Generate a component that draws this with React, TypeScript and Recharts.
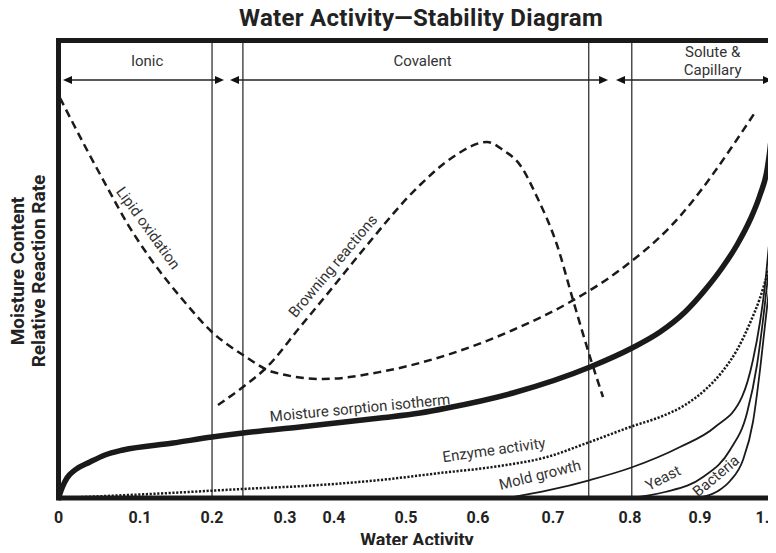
import React from 'react';
import { LineChart, Line, XAxis, YAxis, ReferenceLine, ReferenceDot } from 'recharts';

// x runs 0..100 across the plot (tick labels are placed where the diagram puts them),
// y is a relative 0..100 scale
const tickLabels = ['0', '0.1', '0.2', '0.3', '0.4', '0.5', '0.6', '0.7', '0.8', '0.9', '1.1'];
const tickPositions = [0, 11.36, 21.39, 31.57, 38.4, 48.43, 58.47, 68.92, 79.65, 89.41, 98.75];

const zoneBoundaries = [21.4, 25.7, 73.9, 79.9];

const zones = [
  { name: ['Ionic'], from: 0.63, to: 23.07 },
  { name: ['Covalent'], from: 23.9, to: 76.59 },
  { name: ['Solute &', 'Capillary'], from: 77.7, to: 99.44 },
];

const sorptionIsotherm: [number, number][] = [
  [0, 0], [0.49, 2.19], [1.18, 4.37], [2.3, 6.12], [4.39, 7.87], [6.48, 9.4], [8.99, 10.49],
  [15.96, 12.02], [21.39, 13.33], [25.71, 14.21], [33.66, 15.52], [44.81, 17.49], [50.38, 18.58],
  [54.15, 19.67], [63.34, 22.95], [74.08, 28.63], [79.93, 32.79], [83.83, 36.28], [87.32, 40.66],
  [90.1, 45.46], [92.47, 50.27], [94.56, 55.3], [96.38, 60.77], [97.77, 66.23], [98.75, 71.69],
  [99.3, 78.25], [99.72, 87.43],
];

const lipidOxidation: [number, number][] = [
  [0.21, 87.43], [3.97, 76.07], [6.76, 67.98], [9.55, 60.11], [12.75, 52.46], [17.35, 43.28],
  [21.39, 36.28], [25.71, 31.26], [29.9, 27.54], [36.86, 26.01], [44.81, 27.54], [54.15, 31.26],
  [63.34, 36.72], [71.29, 42.84], [78.26, 49.84], [85.23, 59.23], [97.21, 84.59],
];

const browning: [number, number][] = [
  [22.23, 20.33], [25.71, 24.26], [29.06, 28.63], [33.66, 37.38], [38.26, 46.12], [42.44, 54.21],
  [50.38, 68.42], [54.98, 74.54], [59.72, 77.81], [61.95, 76.07], [64.32, 72.79], [66.69, 65.79],
  [69.48, 55.3], [71.71, 43.28], [74.08, 30.82], [75.89, 22.08],
];

const enzyme: [number, number][] = [
  [0, 0], [12.75, 0.87], [25.71, 1.97], [36.45, 2.84], [44.81, 3.93], [53.17, 5.46], [61.53, 7.0],
  [68.08, 8.96], [73.66, 12.02], [80.07, 15.74], [83.83, 17.7], [87.32, 20.33], [90.1, 23.61],
  [92.47, 27.54], [94.56, 32.35], [96.38, 38.25], [97.77, 43.72], [98.89, 49.4], [100, 55.3],
];

const mold: [number, number][] = [
  [62.65, 0], [68.5, 1.75], [74.08, 3.93], [79.65, 6.56], [86.62, 11.15], [91.5, 15.52],
  [95.26, 22.08], [96.79, 30.16], [97.77, 38.47], [98.47, 46.56], [99.02, 55.3], [99.58, 64.04], [100, 70.6],
];

const yeast: [number, number][] = [
  [79.65, 0], [84.53, 1.31], [89.83, 4.59], [93.59, 10.49], [95.96, 18.58], [97.35, 29.07],
  [98.19, 38.91], [98.75, 46.56], [99.3, 54.21], [100, 61.86],
];

const bacteria: [number, number][] = [
  [88.99, 0], [91.92, 1.53], [93.59, 3.72], [95.4, 8.31], [96.79, 16.61], [97.77, 27.98],
  [98.47, 37.81], [99.02, 45.46], [99.58, 52.46], [100, 57.49],
];

// curve captions: anchor in chart units + rotation
const captions = [
  { text: 'Lipid oxidation', x: 12.49, y: 59.02, angle: 54 },
  { text: 'Browning reactions', x: 38.26, y: 50.71, angle: -50 },
  { text: 'Moisture sorption isotherm', x: 42.02, y: 19.67, angle: -5.5 },
  { text: 'Enzyme activity', x: 60.7, y: 10.49, angle: -8 },
  { text: 'Mold growth', x: 67.11, y: 5.03, angle: -14 },
  { text: 'Yeast', x: 84.25, y: 4.37, angle: -27 },
  { text: 'Bacteria', x: 91.64, y: 4.81, angle: -40 },
];

const toPoints = (arr: [number, number][]) => arr.map(([x, y]) => ({ x, y }));

const INK = '#1a1a1a';
const FONT = 'Roboto, "Noto Sans", sans-serif';

const DoubleArrow = (p: any) => {
  const { x1, y1, x2, y2 } = p;
  const h = 9;
  const w = 4;
  return (
    <g>
      <line x1={x1 + h - 1} y1={y1} x2={x2 - h + 1} y2={y2} stroke="#222" strokeWidth={1.3} />
      <polygon points={`${x1},${y1} ${x1 + h},${y1 - w} ${x1 + h},${y1 + w}`} fill="#111" />
      <polygon points={`${x2},${y2} ${x2 - h},${y2 - w} ${x2 - h},${y2 + w}`} fill="#111" />
    </g>
  );
};

export default function App() {
  return (
    <div
      style={{
        position: 'relative',
        width: 776,
        height: 553,
        margin: -8,
        overflow: 'hidden',
        background: '#fff',
        fontFamily: FONT,
      }}
    >
      <LineChart width={800} height={553} margin={{ top: 40.5, right: 24, bottom: 0, left: 58.5 }}>
        <XAxis
          type="number"
          dataKey="x"
          domain={[0, 100]}
          ticks={tickPositions}
          tickFormatter={(v: number) => tickLabels[tickPositions.indexOf(v)] ?? ''}
          interval={0}
          height={55}
          tickLine={false}
          tickSize={6}
          tickMargin={8}
          axisLine={{ stroke: INK, strokeWidth: 5 }}
          tick={{ fontSize: 16, fontWeight: 700, fill: '#222', fontFamily: FONT }}
        />
        <YAxis type="number" domain={[0, 100]} hide />

        {zoneBoundaries.map((x) => (
          <ReferenceLine key={x} x={x} stroke="#333" strokeWidth={1.3} />
        ))}
        <ReferenceLine y={100} stroke={INK} strokeWidth={5} strokeLinecap="square" />
        <ReferenceLine x={0} stroke={INK} strokeWidth={5} strokeLinecap="square" />

        {zones.map((z) => (
          <ReferenceLine
            key={z.name[0]}
            segment={[{ x: z.from, y: 91.37 }, { x: z.to, y: 91.37 }]}
            shape={DoubleArrow}
            ifOverflow="visible"
          />
        ))}
        {zones.map((z) => (
          <ReferenceDot
            key={'t' + z.name[0]}
            x={(z.from + z.to) / 2 + (z.name.length > 1 ? 2.6 : 0.5)}
            y={z.name.length > 1 ? 97.4 : 95.5}
            r={0}
            ifOverflow="visible"
            shape={(p: any) => (
              <text
                x={p.cx}
                y={p.cy}
                textAnchor="middle"
                dominantBaseline="central"
                fontSize={15}
                fill="#333"
                fontFamily={FONT}
              >
                {z.name.map((s, i) => (
                  <tspan key={s} x={p.cx} dy={i === 0 ? 0 : 18}>
                    {s}
                  </tspan>
                ))}
              </text>
            )}
          />
        ))}

        <Line data={toPoints(lipidOxidation)} dataKey="y" type="monotone" stroke={INK} strokeWidth={2.5}
          strokeDasharray="8 5" dot={false} activeDot={false} isAnimationActive={false} />
        <Line data={toPoints(browning)} dataKey="y" type="monotone" stroke={INK} strokeWidth={2.5}
          strokeDasharray="8 5" dot={false} activeDot={false} isAnimationActive={false} />
        <Line data={toPoints(enzyme)} dataKey="y" type="monotone" stroke={INK} strokeWidth={2.5}
          strokeDasharray="2.2 1.6" dot={false} activeDot={false} isAnimationActive={false} />
        <Line data={toPoints(mold)} dataKey="y" type="monotone" stroke={INK} strokeWidth={1.8}
          dot={false} activeDot={false} isAnimationActive={false} />
        <Line data={toPoints(yeast)} dataKey="y" type="monotone" stroke={INK} strokeWidth={1.8}
          dot={false} activeDot={false} isAnimationActive={false} />
        <Line data={toPoints(bacteria)} dataKey="y" type="monotone" stroke={INK} strokeWidth={1.8}
          dot={false} activeDot={false} isAnimationActive={false} />
        <Line data={toPoints(sorptionIsotherm)} dataKey="y" type="monotone" stroke={INK} strokeWidth={5.5}
          dot={false} activeDot={false} isAnimationActive={false} />

        {captions.map((c) => (
          <ReferenceDot
            key={c.text}
            x={c.x}
            y={c.y}
            r={0}
            ifOverflow="visible"
            shape={(p: any) => (
              <text
                x={p.cx}
                y={p.cy}
                textAnchor="middle"
                dominantBaseline="central"
                fontSize={15}
                fill="#333"
                fontFamily={FONT}
                transform={`rotate(${c.angle} ${p.cx} ${p.cy})`}
              >
                {c.text}
              </text>
            )}
          />
        ))}
      </LineChart>

      <svg width={776} height={553} style={{ position: 'absolute', left: 0, top: 0, pointerEvents: 'none' }}>
        <text x={421} y={26} textAnchor="middle" fontSize={24} fontWeight={700} letterSpacing={0.3}
          fill="#222" fontFamily={FONT}>
          Water Activity—Stability Diagram
        </text>
        <text x={417} y={546} textAnchor="middle" fontSize={18} fontWeight={700} fill="#222" fontFamily={FONT}>
          Water Activity
        </text>
        <text x={24} y={271} textAnchor="middle" fontSize={19} fontWeight={700} fill="#222" fontFamily={FONT}
          transform="rotate(-90 24 271)">
          Moisture Content
        </text>
        <text x={45} y={271} textAnchor="middle" fontSize={19} fontWeight={700} fill="#222" fontFamily={FONT}
          transform="rotate(-90 45 271)">
          Relative Reaction Rate
        </text>
      </svg>
    </div>
  );
}
